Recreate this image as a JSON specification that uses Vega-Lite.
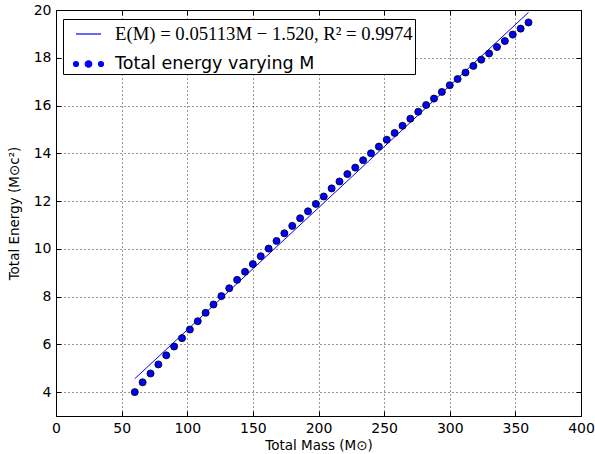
{
  "$schema": "https://vega.github.io/schema/vega-lite/v6.json",
  "width": 525,
  "height": 406,
  "autosize": "none",
  "padding": {"left": 56, "top": 10, "right": 14, "bottom": 38},
  "background": "white",
  "config": {
    "font": "DejaVu Sans",
    "view": {"stroke": "black", "strokeWidth": 1},
    "axis": {
      "domainColor": "black",
      "tickColor": "black",
      "labelColor": "black",
      "titleColor": "black",
      "labelFont": "DejaVu Sans",
      "titleFont": "DejaVu Sans",
      "labelFontSize": 14,
      "titleFontSize": 13.5,
      "titleFontWeight": "normal",
      "labelFlush": false,
      "gridColor": "black",
      "gridDash": [1, 3],
      "gridOpacity": 0.8,
      "gridWidth": 1,
      "tickSize": -5
    },
    "legend": {
      "title": null,
      "orient": "none",
      "legendX": 7,
      "legendY": 9,
      "fillColor": "white",
      "strokeColor": "black",
      "padding": 1.5,
      "rowPadding": 6,
      "labelFontSize": 18,
      "labelOffset": 13,
      "labelLimit": 400,
      "symbolSize": 100,
      "symbolOffset": 10.5,
      "symbolStrokeColor": "#0000ff",
      "symbolStrokeWidth": 1.2
    }
  },
  "datasets": {
    "pts": [
      {"M": 60, "E": 4.00}, {"M": 66, "E": 4.41}, {"M": 72, "E": 4.78}, {"M": 78, "E": 5.16},
      {"M": 84, "E": 5.54}, {"M": 90, "E": 5.91}, {"M": 96, "E": 6.26}, {"M": 102, "E": 6.62},
      {"M": 108, "E": 6.97}, {"M": 114, "E": 7.32}, {"M": 120, "E": 7.67}, {"M": 126, "E": 8.02},
      {"M": 132, "E": 8.35}, {"M": 138, "E": 8.70}, {"M": 144, "E": 9.04}, {"M": 150, "E": 9.36},
      {"M": 156, "E": 9.69}, {"M": 162, "E": 10.01}, {"M": 168, "E": 10.33}, {"M": 174, "E": 10.65},
      {"M": 180, "E": 10.96}, {"M": 186, "E": 11.28}, {"M": 192, "E": 11.57}, {"M": 198, "E": 11.88},
      {"M": 204, "E": 12.19}, {"M": 210, "E": 12.53}, {"M": 216, "E": 12.82}, {"M": 222, "E": 13.13},
      {"M": 228, "E": 13.40}, {"M": 234, "E": 13.71}, {"M": 240, "E": 14.00}, {"M": 246, "E": 14.28},
      {"M": 252, "E": 14.57}, {"M": 258, "E": 14.85}, {"M": 264, "E": 15.15}, {"M": 270, "E": 15.45},
      {"M": 276, "E": 15.74}, {"M": 282, "E": 16.02}, {"M": 288, "E": 16.29}, {"M": 294, "E": 16.57},
      {"M": 300, "E": 16.85}, {"M": 306, "E": 17.11}, {"M": 312, "E": 17.38}, {"M": 318, "E": 17.66},
      {"M": 324, "E": 17.92}, {"M": 330, "E": 18.18}, {"M": 336, "E": 18.45}, {"M": 342, "E": 18.70},
      {"M": 348, "E": 18.97}, {"M": 354, "E": 19.22}, {"M": 360, "E": 19.48}
    ],
    "fit": [
      {"M": 60, "E": 4.56},
      {"M": 360, "E": 19.90}
    ]
  },
  "layer": [
    {
      "data": {"name": "fit"},
      "transform": [{"calculate": "'E(M) = 0.05113M − 1.520, R² = 0.9974'", "as": "series"}],
      "mark": {"type": "line", "strokeWidth": 1, "clip": true},
      "encoding": {
        "x": {"field": "M", "type": "quantitative", "scale": {"domain": [0, 400], "nice": false, "padding": 0},
          "axis": {"values": [0, 50, 100, 150, 200, 250, 300, 350, 400], "title": "Total Mass (M⊙)", "labelPadding": 10, "titlePadding": 3}},
        "y": {"field": "E", "type": "quantitative", "scale": {"domain": [3, 20], "nice": false, "zero": false, "padding": 0},
          "axis": {"values": [4, 6, 8, 10, 12, 14, 16, 18, 20], "title": "Total Energy (M⊙c²)", "labelPadding": 10, "titlePadding": 12}},
        "color": {"field": "series", "type": "nominal",
          "scale": {"domain": ["E(M) = 0.05113M − 1.520, R² = 0.9974", "Total energy varying M"], "range": ["#0000ff", "#0000ff"]},
          "legend": {
            "encode": {
              "symbols": {"update": {
                "shape": {"signal": "datum.value === 'Total energy varying M' ? 'M -1.2 0 A 0.2 0.2 0 1 0 -0.8 0 A 0.2 0.2 0 1 0 -1.2 0 Z M -0.26 0 A 0.26 0.26 0 1 0 0.26 0 A 0.26 0.26 0 1 0 -0.26 0 Z M 0.8 0 A 0.2 0.2 0 1 0 1.2 0 A 0.2 0.2 0 1 0 0.8 0 Z' : 'stroke'"},
                "size": {"value": 625},
                "fill": {"signal": "datum.value === 'Total energy varying M' ? '#0000ff' : 'transparent'"},
                "stroke": {"signal": "datum.value === 'Total energy varying M' ? 'black' : '#0000ff'"},
                "strokeWidth": {"value": 1.2},
                "opacity": {"value": 1}
              }},
              "labels": {"update": {
                "font": {"signal": "datum.value === 'Total energy varying M' ? 'DejaVu Sans' : 'Liberation Serif'"},
                "fontSize": {"signal": "datum.value === 'Total energy varying M' ? 17.5 : 18.7"}
              }}
            }
          }
        }
      }
    },
    {
      "data": {"name": "pts"},
      "transform": [{"calculate": "'Total energy varying M'", "as": "series"}],
      "mark": {"type": "point", "filled": true, "size": 50, "opacity": 1},
      "encoding": {
        "x": {"field": "M", "type": "quantitative",
          "axis": {"orient": "top", "values": [0, 50, 100, 150, 200, 250, 300, 350, 400], "labels": false, "title": null, "grid": false}},
        "y": {"field": "E", "type": "quantitative",
          "axis": {"orient": "right", "values": [4, 6, 8, 10, 12, 14, 16, 18, 20], "labels": false, "title": null, "grid": false}},
        "color": {"field": "series", "type": "nominal",
          "legend": {
            "encode": {
              "symbols": {"update": {
                "shape": {"signal": "datum.value === 'Total energy varying M' ? 'M -1.2 0 A 0.2 0.2 0 1 0 -0.8 0 A 0.2 0.2 0 1 0 -1.2 0 Z M -0.26 0 A 0.26 0.26 0 1 0 0.26 0 A 0.26 0.26 0 1 0 -0.26 0 Z M 0.8 0 A 0.2 0.2 0 1 0 1.2 0 A 0.2 0.2 0 1 0 0.8 0 Z' : 'stroke'"},
                "size": {"value": 625},
                "fill": {"signal": "datum.value === 'Total energy varying M' ? '#0000ff' : 'transparent'"},
                "stroke": {"signal": "datum.value === 'Total energy varying M' ? 'black' : '#0000ff'"},
                "strokeWidth": {"value": 1.2},
                "opacity": {"value": 1}
              }},
              "labels": {"update": {
                "font": {"signal": "datum.value === 'Total energy varying M' ? 'DejaVu Sans' : 'Liberation Serif'"},
                "fontSize": {"signal": "datum.value === 'Total energy varying M' ? 17.5 : 18.7"}
              }}
            }
          }
        }
      }
    },
    {
      "data": {"name": "pts"},
      "mark": {"type": "point", "filled": false, "size": 50, "stroke": "black", "strokeWidth": 0.8, "opacity": 1},
      "encoding": {
        "x": {"field": "M", "type": "quantitative", "axis": null},
        "y": {"field": "E", "type": "quantitative", "axis": null}
      }
    }
  ],
  "resolve": {"axis": {"x": "independent", "y": "independent"}}
}
